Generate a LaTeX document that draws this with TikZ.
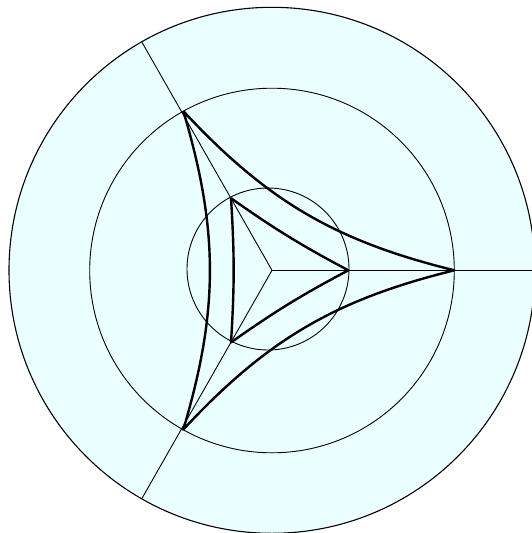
\documentclass[tikz,border=0pt]{standalone}
\definecolor{diskfill}{RGB}{234,255,255}
\tikzset{
  thinline/.style={line width=0.9pt, black},
  geodesic/.style={line width=2.4pt, black, line join=round},
}
\begin{document}
\begin{tikzpicture}[x=1pt,y=-1pt]
\clip (0,0) rectangle (532,533);
\coordinate (O) at (272,270.3);
% outer vertices
\coordinate (P1) at (454.3,270.3);
\coordinate (P2) at (183.3,111.1);
\coordinate (P3) at (183.3,429.5);
% inner vertices
\coordinate (Q1) at (348.3,270.3);
\coordinate (Q2) at (231,198.2);
\coordinate (Q3) at (231,342.4);
% ray ends
\coordinate (E1) at (535,270.3);
\coordinate (E2) at (142,42.3);
\coordinate (E3) at (142,498.3);
% disk
\fill[diskfill] (O) circle (263);
\draw[thinline, line width=1.1pt] (O) circle (263);
\draw[thinline] (272,270.5) circle (182.3);
\draw[thinline] (268,269) circle (81);
% rays
\draw[thinline] (O) -- (E1);
\draw[thinline] (O) -- (E2);
\draw[thinline] (O) -- (E3);
% triangles
\draw[geodesic] (P2) to[bend left=16.6] (P3) to[bend left=16.6] (P1) to[bend left=16.6] (P2);
\draw[geodesic] (Q2) to[bend left=3.6] (Q3) to[bend left=3.6] (Q1) to[bend left=3.6] (Q2);
\end{tikzpicture}
\end{document}
